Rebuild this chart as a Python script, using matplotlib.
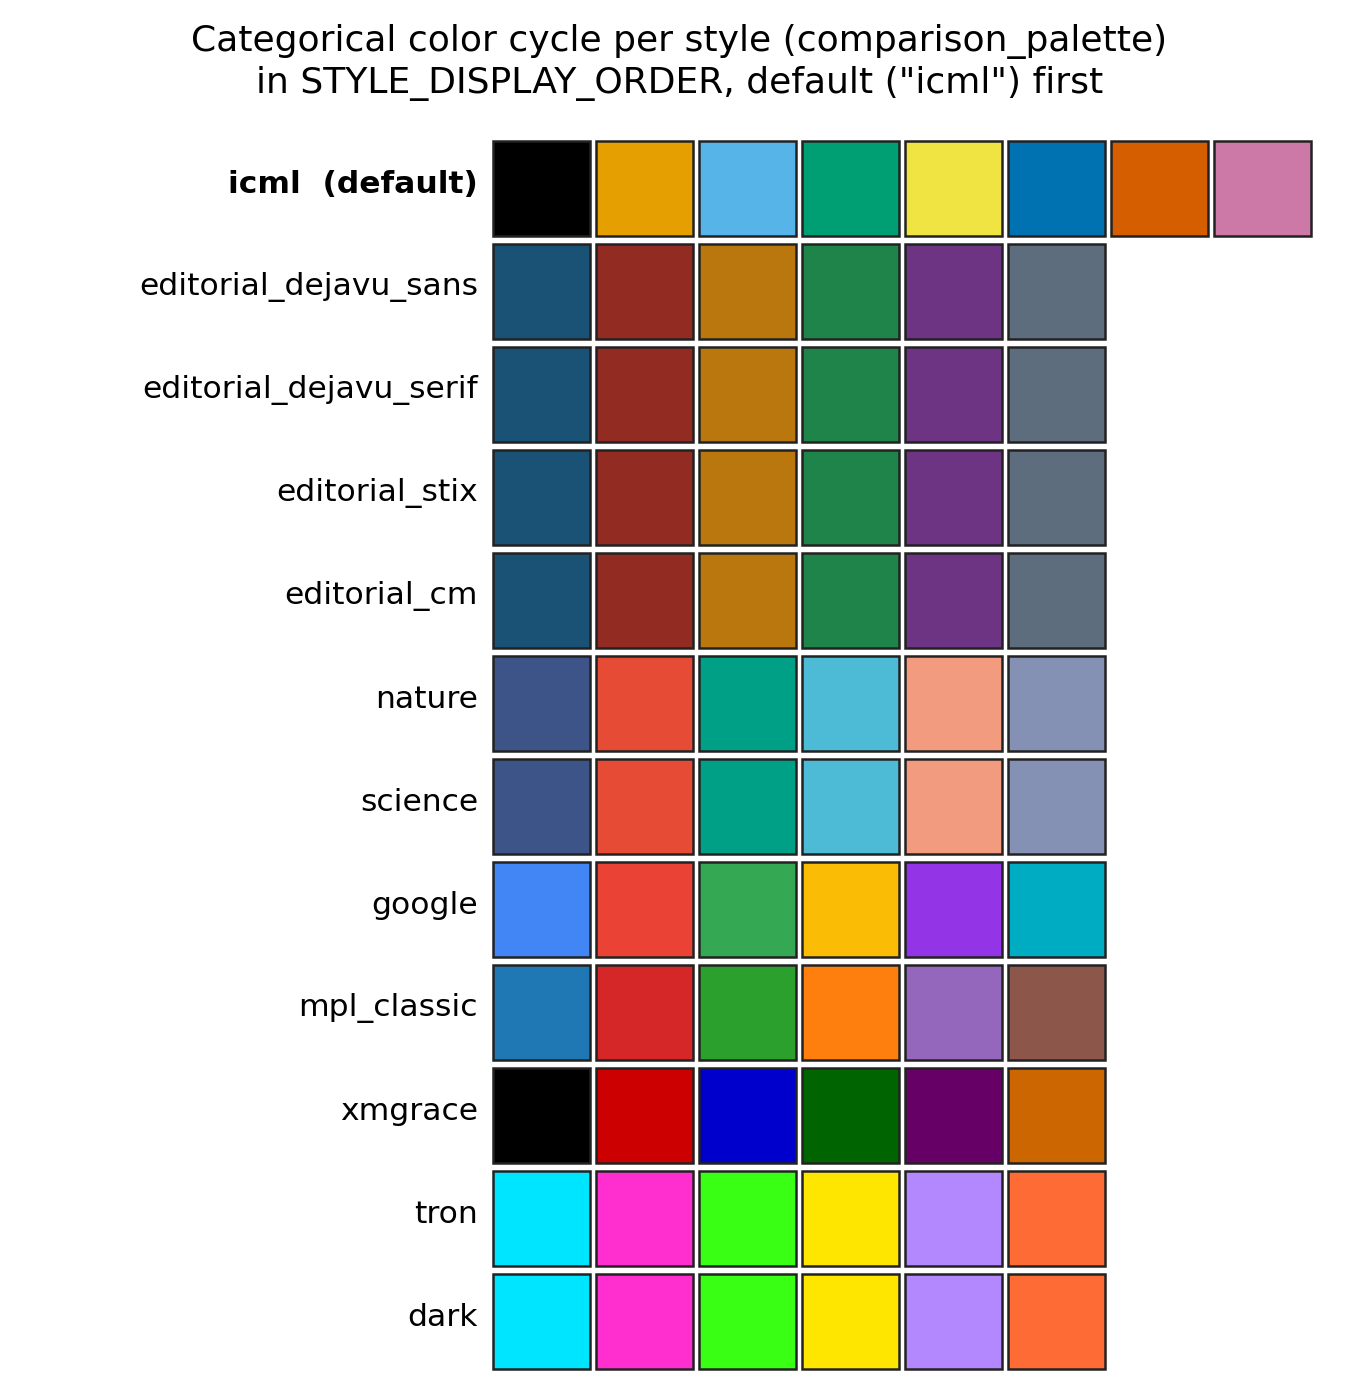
"""Categorical color cycle per style, one row of swatches per style"""

import matplotlib
matplotlib.use("Agg")
import matplotlib.pyplot as plt
from matplotlib.patches import Rectangle

# Styles in display order (default first)
styles = ["icml", "editorial_dejavu_sans", "editorial_dejavu_serif",
          "editorial_stix", "editorial_cm", "nature", "science", "google",
          "mpl_classic", "xmgrace", "tron", "dark"]

# Color cycles
icml = ["#000000", "#E69F00", "#56B4E9", "#009E73",
        "#F0E442", "#0072B2", "#D55E00", "#CC79A7"]
editorial = ["#1A5276", "#922B21", "#B9770E", "#1E8449", "#6C3483", "#5D6D7E"]
npg = ["#3C5488", "#E64B35", "#00A087", "#4DBBD5", "#F39B7F", "#8491B4"]
google = ["#4285F4", "#EA4335", "#34A853", "#FBBC05", "#9334E6", "#00ACC1"]
mpl_classic = ["#1f77b4", "#d62728", "#2ca02c", "#ff7f0e", "#9467bd", "#8c564b"]
xmgrace = ["#000000", "#CC0000", "#0000CC", "#006400", "#660066", "#CC6600"]
tron = ["#00E5FF", "#FF2ECF", "#39FF14", "#FFE600", "#B388FF", "#FF6B35"]

cycles = [icml, editorial, editorial, editorial, editorial, npg, npg,
          google, mpl_classic, xmgrace, tron, tron]

fig = plt.figure(figsize=(6.795, 6.945), dpi=200)
ax = fig.add_axes([0.3606, 0.0115, 0.6063, 0.8899])

for i, cyc in enumerate(cycles):
    for j, c in enumerate(cyc):
        ax.add_patch(Rectangle((j - 0.47, i - 0.465), 0.94, 0.93,
                               facecolor=c, edgecolor="#222222", linewidth=0.9))

ax.set_xlim(-0.5, 7.5)
ax.set_ylim(len(styles) - 0.5, -0.5)
ax.set_xticks([])
ax.set_yticks([])
for s in ax.spines.values():
    s.set_visible(False)

# row labels, right aligned just left of the swatches
labels = ["icml  (default)"] + styles[1:]
for i, lab in enumerate(labels):
    ax.annotate(lab, xy=(0, i), xycoords=ax.get_yaxis_transform(),
                xytext=(-4.3, 1.5), textcoords="offset points",
                ha="right", va="center", fontsize=11.3,
                fontweight="bold" if i == 0 else "normal")

fig.suptitle("Categorical color cycle per style (comparison_palette)\n"
             "in STYLE_DISPLAY_ORDER, default (\"icml\") first",
             fontsize=13, y=0.983, va="top", linespacing=1.29)

fig.savefig("out.png", dpi=200)
